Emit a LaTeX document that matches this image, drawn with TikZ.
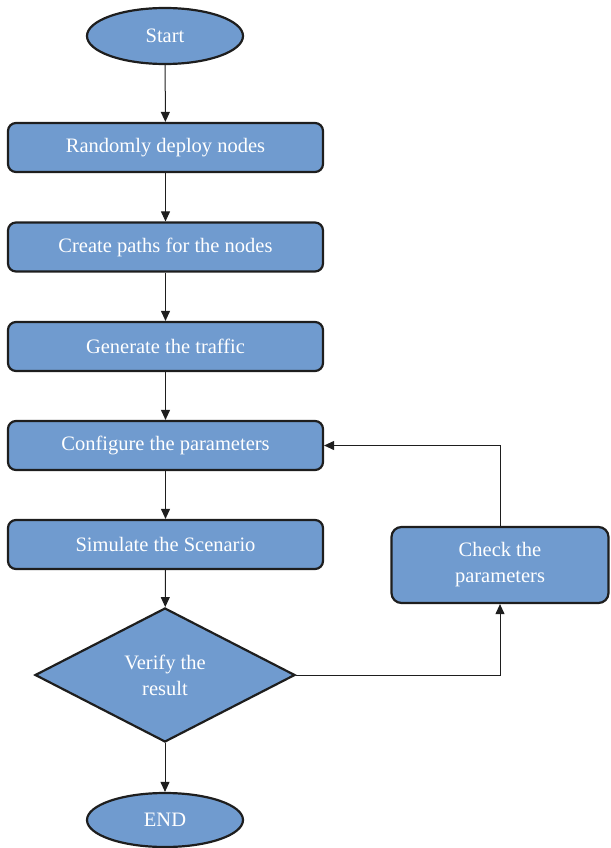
\documentclass[tikz,border=0pt]{standalone}
\usepackage{fontspec}
\setmainfont{Liberation Serif}
\usetikzlibrary{shapes.geometric,arrows.meta}
\definecolor{fillblue}{RGB}{112,155,207}
\definecolor{edge}{RGB}{30,30,30}
\tikzset{
  base/.style={draw=edge, line width=2.2pt, fill=fillblue, text=white, font=\fontsize{20.5}{26}\selectfont, align=center, inner sep=0pt},
  proc/.style={base, rectangle, rounded corners=8pt, minimum width=315pt, minimum height=49pt},
  term/.style={base, ellipse, minimum width=156pt, minimum height=56pt},
  dec/.style={base, diamond, minimum width=260pt, minimum height=134pt, aspect=1.94},
  conn/.style={draw=edge, line width=1pt, -{Triangle[length=10pt,width=9pt]}},
}
\begin{document}
\begin{tikzpicture}[x=1pt,y=-1pt]
\useasboundingbox (0,0) rectangle (610,848);
\node[term] (start) at (165,36) {Start};
\node[proc] (p1) at (165.5,147.5) {Randomly deploy nodes};
\node[proc] (p2) at (165.5,247) {Create paths for the nodes};
\node[proc] (p3) at (165.5,346.5) {Generate the traffic};
\node[proc] (p4) at (165.5,445.5) {Configure the parameters};
\node[proc] (p5) at (165.5,544.5) {Simulate the Scenario};
\node[dec] (d) at (165,675) {Verify the\\result};
\node[base, rectangle, rounded corners=10pt, minimum width=217pt, minimum height=76pt] (chk) at (500,565) {Check the\\parameters};
\node[term, minimum height=54pt] (end) at (165,820) {END};
\coordinate (c1) at (500,675);
\coordinate (c2) at (500,445.5);
\draw[conn] (start) -- (p1);
\draw[conn] (p1) -- (p2);
\draw[conn] (p2) -- (p3);
\draw[conn] (p3) -- (p4);
\draw[conn] (p4) -- (p5);
\draw[conn] (p5) -- (d);
\draw[conn] (d) -- (end);
\draw[conn] (d.east) -- (c1) -- (chk.south);
\draw[conn] (chk.north) -- (c2) -- (p4.east);
\end{tikzpicture}
\end{document}
